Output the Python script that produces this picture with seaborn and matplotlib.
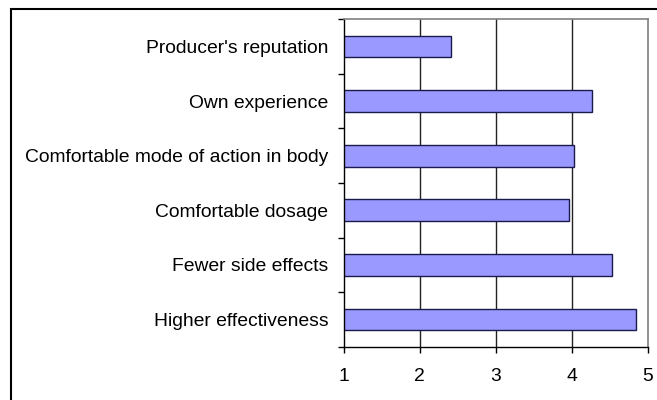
import numpy as np
import pandas as pd
import matplotlib
matplotlib.use("Agg")
import matplotlib.pyplot as plt
from matplotlib.patches import Rectangle
import seaborn as sns

factors = ["Producer's reputation", "Own experience",
           "Comfortable mode of action in body", "Comfortable dosage",
           "Fewer side effects", "Higher effectiveness"]
scores = [2.41, 4.27, 4.03, 3.96, 4.53, 4.85]
xticks = [1, 2, 3, 4, 5]

sns.set_style("white")
plt.rcParams['font.family'] = ['Liberation Sans', 'DejaVu Sans']

df = pd.DataFrame({'factor': factors, 'score': scores})

fig = plt.figure(figsize=(6.57, 4.0), dpi=100)
ax = fig.add_axes([343.7 / 657, 1 - 346.7 / 400, (647.7 - 343.7) / 657, (346.7 - 19.3) / 400])

sns.barplot(data=df, x='score', y='factor', orient='h', ax=ax, width=0.4,
            color='#9999ff', saturation=1, edgecolor='#1a1a4d', linewidth=1.0)

ax.set_xlim(1, 5)
ax.set_ylim(len(factors) - 0.5, -0.5)
ax.set_xticks(xticks)
ax.set_xticklabels([str(t) for t in xticks])
ax.set_xlabel('')
ax.set_ylabel('')

# category boundary ticks on y axis
ax.set_yticks(np.arange(len(factors) + 1) - 0.5, minor=True)
ax.tick_params(axis='y', which='major', length=0, pad=11, labelsize=13.9, labelcolor='black')
ax.tick_params(axis='y', which='minor', length=4, width=1, color='black', left=True)
ax.tick_params(axis='x', which='major', length=4, width=1, color='black', bottom=True,
               pad=11, labelsize=13.9, labelcolor='black')

for v in [2, 3, 4]:
    ax.axvline(v, color='#222222', lw=1, zorder=0)
ax.set_axisbelow(True)

for side in ['left', 'bottom']:
    ax.spines[side].set_color('black')
    ax.spines[side].set_linewidth(1.0)
for side in ['top', 'right']:
    ax.spines[side].set_visible(True)
    ax.spines[side].set_color('#808080')
    ax.spines[side].set_linewidth(1.2)

# outer chart frame (only left and top visible in the crop)
fig.patches.append(Rectangle((10.5 / 657, -0.1), 1.2, 1.1 - 9.5 / 400, transform=fig.transFigure,
                             fill=False, edgecolor='black', lw=1.5))

fig.savefig('out.png', dpi=100)
